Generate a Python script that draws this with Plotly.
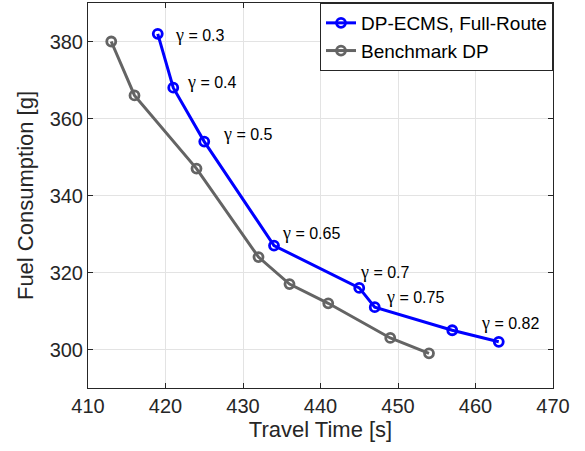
import plotly.graph_objects as go

ecms_time = [419, 421, 425, 434, 445, 447, 457, 463]
ecms_fuel = [382, 368, 354, 327, 316, 311, 305, 302]
dp_time = [413, 416, 424, 432, 436, 441, 449, 454]
dp_fuel = [380, 366, 347, 324, 317, 312, 303, 299]

gamma_labels = ["0.3", "0.4", "0.5", "0.65", "0.7", "0.75", "0.82"]
gamma_x = [421.0, 422.5, 427.2, 434.8, 444.8, 448.2, 460.4]
gamma_y = [381.8, 369.5, 355.9, 330.3, 320.2, 313.7, 306.8]

x_ticks = [410, 420, 430, 440, 450, 460, 470]
y_ticks = [300, 320, 340, 360, 380]

txt = "#262626"
fig = go.Figure()
fig.add_trace(go.Scatter(x=ecms_time, y=ecms_fuel, mode="lines+markers",
                         name="DP-ECMS, Full-Route",
                         line=dict(color="#0000ff", width=3),
                         marker=dict(symbol="circle-open", size=9, color="#0000ff",
                                     line=dict(width=2.8, color="#0000ff"))))
fig.add_trace(go.Scatter(x=dp_time, y=dp_fuel, mode="lines+markers",
                         name="Benchmark DP",
                         line=dict(color="#646464", width=3),
                         marker=dict(symbol="circle-open", size=9, color="#646464",
                                     line=dict(width=2.8, color="#646464"))))

for lab, gx, gy in zip(gamma_labels, gamma_x, gamma_y):
    fig.add_annotation(x=gx, y=gy, xanchor="left", yanchor="middle", showarrow=False,
                       text="<span style='font-family:Liberation Serif;font-size:18px'>γ</span> = " + lab,
                       font=dict(family="Liberation Sans", size=16, color="black"))

axis_common = dict(showgrid=True, gridcolor="#e3e3e3", gridwidth=1,
                   showline=True, linecolor=txt, linewidth=1, mirror="ticks",
                   ticks="inside", ticklen=5, tickcolor=txt, zeroline=False,
                   tickfont=dict(family="Liberation Sans", size=20, color=txt))

fig.update_xaxes(range=[410, 470], tickvals=x_ticks,
                 title=dict(text="Travel Time [s]", font=dict(family="Liberation Sans", size=22, color=txt), standoff=4),
                 **axis_common)
fig.update_yaxes(range=[290, 390], tickvals=y_ticks,
                 title=dict(text="Fuel Consumption [g]", font=dict(family="Liberation Sans", size=22, color=txt), standoff=9),
                 **axis_common)

fig.update_layout(width=585, height=451, margin=dict(l=88, r=32, t=3, b=63),
                  plot_bgcolor="white", paper_bgcolor="white",
                  legend=dict(x=1, y=1, xanchor="right", yanchor="top",
                              bgcolor="white", bordercolor=txt, borderwidth=1,
                              font=dict(family="Liberation Sans", size=19, color="black"),
                              tracegroupgap=0, itemwidth=30))

fig.write_html("out.html")
